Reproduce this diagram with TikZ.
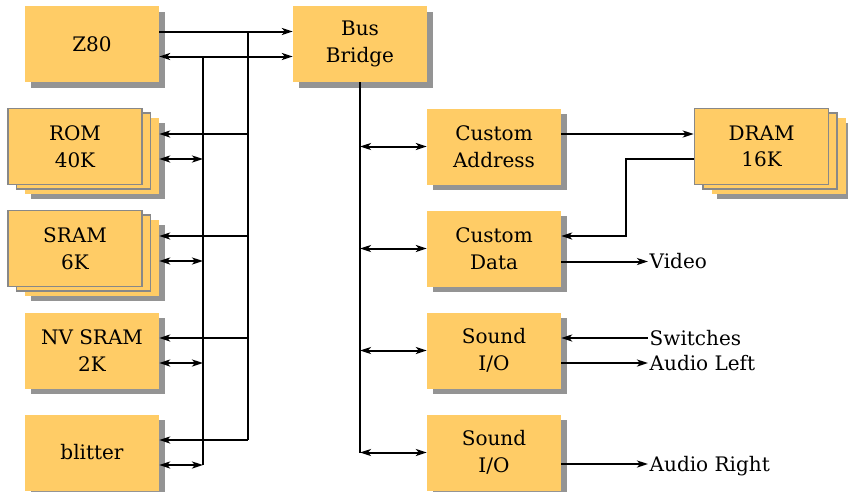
\documentclass[tikz,border=0pt]{standalone}
\usepackage{fontspec}
\setmainfont{DejaVu Serif}
\usetikzlibrary{arrows.meta,shadows}
\definecolor{boxfill}{RGB}{255,204,102}
\definecolor{boxedge}{RGB}{136,136,136}
\tikzset{
  box/.style={fill=boxfill, minimum width=134pt, minimum height=76pt, inner sep=0pt,
    align=center, font=\fontsize{20}{26.5}\selectfont},
  shadowed/.style={drop shadow={shadow xshift=5.5pt, shadow yshift=-5.5pt, fill=black, opacity=0.42}},
  sheet/.style={box, draw=boxedge, line width=1.5pt},
  iolabel/.style={anchor=west, inner sep=1.5pt, text height=14.5pt, text depth=0pt,
    font=\fontsize{20}{26.5}\selectfont},
  wire/.style={line width=2pt, >={Stealth[length=11pt,width=7pt,inset=3pt]}},
}
\begin{document}
\begin{tikzpicture}[x=1pt, y=-1pt]
    \useasboundingbox (0,0) rectangle (848,491);
    % CPU and bridge
    \node[box, shadowed] (z80) at (92,44) {Z80};
    \node[box, shadowed] (bridge) at (360,44) {Bus\\Bridge};
    % Memory stacks on the left
    \node[box, shadowed] (rom3) at (92,155.5) {};
    \node[sheet] (rom2) at (83.5,151) {};
    \node[sheet] (rom) at (75,146.5) {ROM\\40K};
    \node[box, shadowed] (sram3) at (92,257.5) {};
    \node[sheet] (sram2) at (83.5,253) {};
    \node[sheet] (sram) at (75,248.5) {SRAM\\6K};
    \node[box, shadowed] (nvsram) at (92,350.5) {NV SRAM\\2K};
    \node[box, shadowed] (blit) at (92,452.5) {blitter};
    % Custom chips on the right
    \node[box, shadowed] (addr) at (494,146.5) {Custom\\Address};
    \node[box, shadowed] (data) at (494,248.5) {Custom\\Data};
    \node[box, shadowed] (snd1) at (494,350.5) {Sound\\I/O};
    \node[box, shadowed] (snd2) at (494,452.5) {Sound\\I/O};
    % DRAM stack
    \node[box, shadowed] (dram3) at (778.5,155.5) {};
    \node[sheet] (dram2) at (770,151) {};
    \node[sheet] (dram) at (761.5,146.5) {DRAM\\16K};
    % Outside signals
    \node[iolabel] (video) at (648,261.5) {Video};
    \node[iolabel] (switches) at (648,338) {Switches};
    \node[iolabel] (left) at (648,363) {Audio Left};
    \node[iolabel] (right) at (648,464) {Audio Right};

    % Bus lines
    \coordinate (busA) at (248,0);
    \coordinate (busB) at (203,0);
    \coordinate (z80-a) at ([yshift=12.5pt]z80.east);
    \coordinate (z80-d) at ([yshift=-12.5pt]z80.east);

    \begin{scope}[wire]
    % Z80 to bridge
    \draw[->] (z80-a) -- (z80-a -| bridge.west);
    \draw[<->] (z80-d) -- (z80-d -| bridge.west);
    % Memories hang off the two buses
    \foreach \m/\b in {rom/rom3, sram/sram3, nvsram/nvsram, blit/blit} {
      \coordinate (\m-a) at ([yshift=12.5pt]\m.east);
      \coordinate (\m-d) at ([yshift=-12.5pt]\m.east);
      \draw[<-] (\b.east |- \m-a) -- (busA |- \m-a);
      \draw[<->] (\b.east |- \m-d) -- (busB |- \m-d);
    }
    \draw (busA |- z80-a) -- (busA |- blit-a);
    \draw (busB |- z80-d) -- (busB |- blit-d);
    % Bridge down to the custom chips
    \draw (bridge.south) -- (bridge.south |- snd2.west);
    \foreach \n in {addr, data, snd1, snd2}
      \draw[<->] (bridge.south |- \n.west) -- (\n.west);
    % DRAM address and data
    \coordinate (dram-a) at ([yshift=12.5pt]dram.west);
    \coordinate (dram-d) at ([yshift=-12.5pt]dram.west);
    \draw[->] (addr.east |- dram-a) -- (dram-a);
    \draw[->] (dram-d) -- ++(-68,0) |- ([yshift=12.5pt]data.east);
    % Outputs and inputs
    \draw[->] (data.east |- video.west) -- (video.west);
    \draw[<-] (snd1.east |- switches.west) -- (switches.west);
    \draw[->] (snd1.east |- left.west) -- (left.west);
    \draw[->] (snd2.east |- right.west) -- (right.west);
    \end{scope}
\end{tikzpicture}
\end{document}
